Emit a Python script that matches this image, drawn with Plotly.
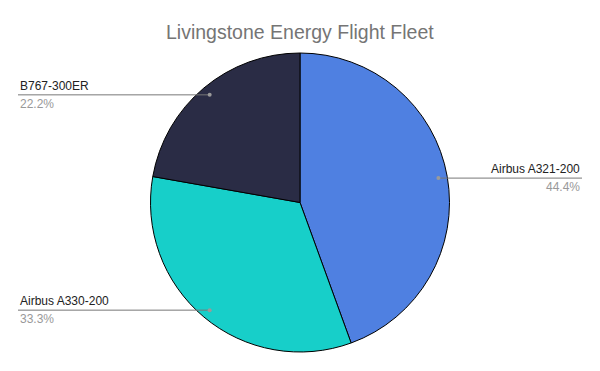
import math
import plotly.graph_objects as go

labels = ["Airbus A321-200", "Airbus A330-200", "B767-300ER"]
values = [4, 3, 2]
colors = ["#4F80E1", "#17CFC9", "#2A2C45"]

W, H = 600, 371
cx, cy, R = 300, 202.5, 149.5

fig = go.Figure(go.Pie(
    labels=labels, values=values, sort=False, direction="clockwise", rotation=0,
    marker=dict(colors=colors, line=dict(color="#000000", width=1)),
    textinfo="none", hoverinfo="label+percent", showlegend=False,
    domain=dict(x=[(cx - R) / W, (cx + R) / W], y=[1 - (cy + R) / H, 1 - (cy - R) / H]),
))

total = sum(values)
cum = 0
shapes, annotations = [], []
for lab, v in zip(labels, values):
    frac = v / total
    mid = (cum + frac / 2) * 2 * math.pi
    cum += frac
    px = cx + 0.94 * R * math.sin(mid)
    py = cy - 0.94 * R * math.cos(mid)
    right = math.sin(mid) > 0
    xend = 582 if right else 18
    yp = 1 - py / H
    shapes.append(dict(type="line", xref="paper", yref="paper", x0=px / W, x1=xend / W,
                       y0=yp, y1=yp, line=dict(color="#777777", width=1)))
    shapes.append(dict(type="circle", xref="paper", yref="paper",
                       x0=(px - 2) / W, x1=(px + 2) / W, y0=yp - 2 / H, y1=yp + 2 / H,
                       fillcolor="#9a9a9a", line=dict(width=0)))
    anchor = "right" if right else "left"
    annotations.append(dict(text=lab, xref="paper", yref="paper", x=xend / W, y=yp,
                            xanchor=anchor, yanchor="bottom", yshift=0, showarrow=False,
                            font=dict(family="Liberation Sans, Arial", size=12, color="#222222")))
    annotations.append(dict(text=f"{frac * 100:.1f}%", xref="paper", yref="paper", x=xend / W, y=yp,
                            xanchor=anchor, yanchor="top", yshift=0, showarrow=False,
                            font=dict(family="Liberation Sans, Arial", size=12, color="#999999")))

annotations.append(dict(text="Livingstone Energy Flight Fleet", xref="paper", yref="paper",
                        x=0.5, y=1 - 32 / H, xanchor="center", yanchor="middle", showarrow=False,
                        font=dict(family="Liberation Sans, Arial", size=19.5, color="#757575")))

fig.update_layout(width=W, height=H, margin=dict(l=0, r=0, t=0, b=0),
                  paper_bgcolor="#ffffff", plot_bgcolor="#ffffff",
                  shapes=shapes, annotations=annotations)
fig.write_html("out.html")
